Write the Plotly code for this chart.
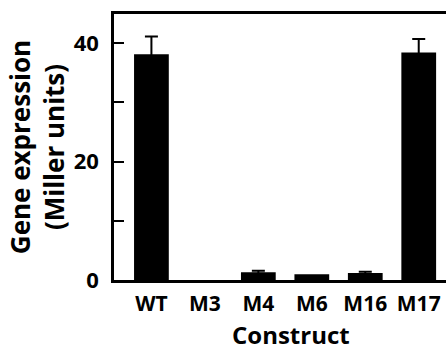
import plotly.graph_objects as go

constructs = ["WT", "M3", "M4", "M6", "M16", "M17"]
expression = [38.1, 0.0, 1.3, 0.95, 1.2, 38.4]
errors = [3.0, None, 0.25, None, 0.2, 2.3]
y_ticks = [0, 10, 20, 30, 40]
y_tick_labels = ["0", "", "20", "", "40"]

FONT = "Open Sans"

positions = list(range(len(constructs)))
err_idx = [i for i, e in enumerate(errors) if e]

fig = go.Figure()
fig.add_trace(go.Bar(
    x=positions,
    y=expression,
    width=0.65,
    marker=dict(color="black", line=dict(color="black", width=0)),
))
fig.add_trace(go.Scatter(
    x=[positions[i] for i in err_idx],
    y=[expression[i] for i in err_idx],
    mode="markers",
    marker=dict(size=0.1, color="black", opacity=0),
    error_y=dict(type="data", array=[errors[i] for i in err_idx], visible=True,
                 color="black", thickness=2, width=6.5),
    hoverinfo="skip",
))

fig.update_layout(
    width=446, height=354,
    margin=dict(l=114, r=0, t=14, b=74),
    plot_bgcolor="white", paper_bgcolor="white",
    showlegend=False,
    font=dict(family=FONT, color="black", weight="bold"),
)
fig.update_xaxes(
    range=[-0.70, 5.51],
    tickmode="array", tickvals=positions, ticktext=constructs,
    ticks="", showline=True, linecolor="black", linewidth=2.5, mirror=True,
    showgrid=False, zeroline=False,
    tickfont=dict(family=FONT, size=21, weight="bold"),
    ticklabelstandoff=3,
)
fig.update_yaxes(
    range=[0, 44.9],
    tickmode="array", tickvals=y_ticks, ticktext=y_tick_labels,
    ticks="inside", ticklen=10, tickwidth=1.5, tickcolor="black",
    showline=True, linecolor="black", linewidth=2.5, mirror=False,
    showgrid=False, zeroline=False,
    tickfont=dict(family=FONT, size=22, weight="bold"),
    ticklabelstandoff=8,
    title=dict(text="Gene expression<br>(Miller units)",
               font=dict(family=FONT, size=26, weight="bold"), standoff=2),
)
fig.add_annotation(
    text="Construct", xref="paper", yref="paper",
    x=0.533, y=-0.272, yanchor="bottom", xanchor="center", showarrow=False,
    borderpad=0,
    font=dict(family=FONT, size=24, weight="bold"),
)
fig.write_html(
    "out.html",
    config={"displayModeBar": False},
    post_script="document.body.style.margin='0';document.body.style.overflow='hidden';",
)
